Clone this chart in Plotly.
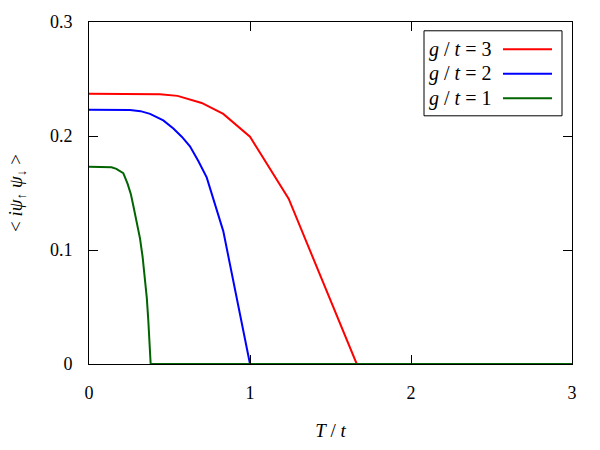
import plotly.graph_objects as go

# ---- data ----
T_g3 = [0.0, 0.3, 0.44, 0.55, 0.6, 0.7, 0.834, 1.0, 1.24, 1.663, 3.0]
V_g3 = [0.237, 0.237, 0.2366, 0.2352, 0.233, 0.229, 0.2194, 0.1994, 0.145, 0.0, 0.0]

T_g2 = [0.0, 0.255, 0.32, 0.379, 0.4615, 0.524, 0.576, 0.627, 0.679, 0.731, 0.834, 1.0, 3.0]
V_g2 = [0.223, 0.2229, 0.2218, 0.2194, 0.2137, 0.2066, 0.1994, 0.1909, 0.178, 0.1637, 0.1166, 0.0, 0.0]

T_g1 = [0.0, 0.1, 0.14, 0.17, 0.19, 0.213, 0.24, 0.26, 0.275, 0.297, 0.317, 0.333,
        0.348, 0.359, 0.368, 0.376, 0.383, 3.0]
V_g1 = [0.173, 0.173, 0.1725, 0.1712, 0.1695, 0.1674, 0.158, 0.149, 0.139, 0.125, 0.110, 0.094,
        0.076, 0.058, 0.039, 0.02, 0.0, 0.0]

legend_labels = ["<i>g</i> / <i>t</i> = 3", "<i>g</i> / <i>t</i> = 2", "<i>g</i> / <i>t</i> = 1"]
colors = ["#ff0000", "#0000ff", "#006400"]

x_ticks = [0, 1, 2, 3]
y_ticks = [0, 0.1, 0.2, 0.3]
y_tick_text = ["0", "0.1", "0.2", "0.3"]

FONT = "Liberation Serif, Times New Roman, serif"

fig = go.Figure()
for T, V, c in zip([T_g3, T_g2, T_g1], [V_g3, V_g2, V_g1], colors):
    fig.add_trace(go.Scatter(x=T, y=V, mode="lines", line=dict(color=c, width=2),
                             showlegend=False, hoverinfo="skip"))

W, H = 600, 450
L, R, TOP, B = 89, 28, 21, 79
pw, ph = W - L - R, H - TOP - B

def px_x(p):
    return (p - L) / pw

def px_y(p):
    return (H - B - p) / ph

# custom legend (text on the left, line sample on the right)
shapes = [dict(type="rect", xref="paper", yref="paper",
               x0=px_x(424), x1=px_x(562), y0=px_y(117), y1=px_y(30),
               line=dict(color="black", width=1), fillcolor="white", layer="above")]
annotations = []
rows = [49, 74, 99]
for lab, c, ry in zip(legend_labels, colors, rows):
    annotations.append(dict(xref="paper", yref="paper", x=px_x(493), y=px_y(ry),
                            xanchor="right", yanchor="middle", text=lab, showarrow=False,
                            font=dict(family=FONT, size=20, color="black")))
    shapes.append(dict(type="line", xref="paper", yref="paper",
                       x0=px_x(503), x1=px_x(552), y0=px_y(ry), y1=px_y(ry),
                       line=dict(color=c, width=2), layer="above"))

fig.update_layout(
    width=W, height=H,
    margin=dict(l=L, r=R, t=TOP, b=B),
    paper_bgcolor="white", plot_bgcolor="white",
    font=dict(family=FONT, size=18, color="black"),
    shapes=shapes, annotations=annotations,
    xaxis=dict(range=[0, 3], tickvals=x_ticks, ticks="inside", ticklen=9, tickcolor="black",
               showline=True, linecolor="black", linewidth=1, mirror="ticks",
               showgrid=False, zeroline=False, ticklabelstandoff=12,
               tickfont=dict(family=FONT, size=18),
               title=dict(text="<i>T</i> / <i>t</i>", font=dict(family=FONT, size=19), standoff=22)),
    yaxis=dict(range=[0, 0.3], tickvals=y_ticks, ticktext=y_tick_text, ticks="inside", ticklen=9,
               tickcolor="black", showline=True, linecolor="black", linewidth=1, mirror="ticks",
               showgrid=False, zeroline=False, ticklabelstandoff=12,
               tickfont=dict(family=FONT, size=18),
               title=dict(text="&lt; <i>iψ</i><sub>↑</sub> <i>ψ</i><sub>↓</sub> &gt;",
                          font=dict(family=FONT, size=19), standoff=22)),
)

fig.write_html("out.html")
